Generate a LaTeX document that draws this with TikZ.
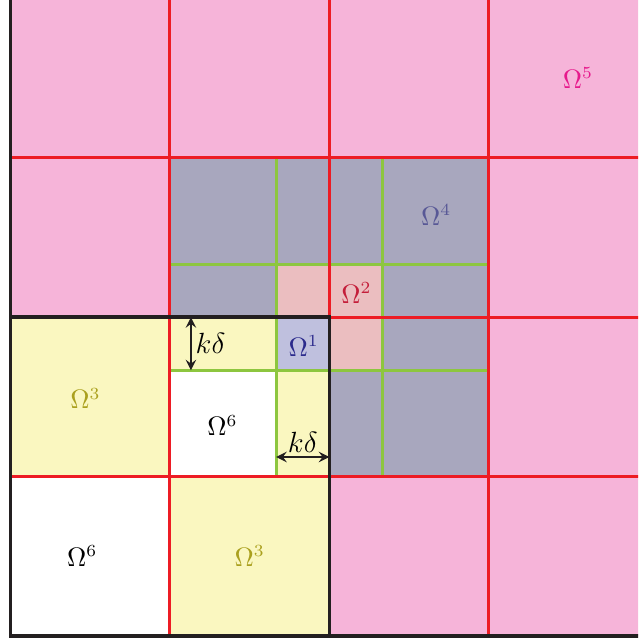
\documentclass[tikz,border=0pt]{standalone}
\usepackage{xcolor}
\definecolor{pinkbg}{RGB}{246,180,217}
\definecolor{grayreg}{RGB}{168,167,190}
\definecolor{pinkreg}{RGB}{235,190,192}
\definecolor{yellowreg}{RGB}{250,247,192}
\definecolor{lavreg}{RGB}{191,192,222}
\definecolor{linered}{RGB}{237,28,36}
\definecolor{linegreen}{RGB}{141,198,63}
\definecolor{lineblack}{RGB}{35,31,32}
\definecolor{txtfive}{RGB}{230,25,140}
\definecolor{txtfour}{RGB}{88,88,150}
\definecolor{txttwo}{RGB}{196,30,58}
\definecolor{txtone}{RGB}{43,42,140}
\definecolor{txtthree}{RGB}{170,160,30}
\begin{document}
\begin{tikzpicture}[>=stealth,x=2.3cm,y=2.3cm,
  redline/.style={line width=1.3pt,draw=linered},
  greenline/.style={line width=1.2pt,draw=linegreen},
  blackline/.style={line width=1.4pt,draw=lineblack},
  dimarrow/.style={<->,line width=0.9pt,draw=lineblack},
  dimlabel/.style={font=\fontsize{13}{15}\selectfont,inner sep=1.5pt},
  omlabel/.style={font=\fontsize{10.5}{12}\selectfont}]
  \useasboundingbox (-0.066,-0.019) rectangle (3.937,3.990);
  \clip (-0.066,-0.019) rectangle (3.937,3.990);
  % subdomains
  \fill[pinkbg] (0,0) rectangle (4.5,4.5);
  \fill[grayreg] (1,1) rectangle (3,3);
  \fill[pinkreg] (5/3,5/3) rectangle (7/3,7/3);
  \fill[yellowreg] (0,0) rectangle (2,2);
  \fill[white] (0,0) rectangle (1,1);
  \fill[white] (1,1) rectangle (5/3,5/3);
  \fill[lavreg] (5/3,5/3) rectangle (2,2);
  % fine and coarse grid
  \foreach \t in {5/3,7/3} {
    \draw[greenline] (\t,1) -- (\t,3);
    \draw[greenline] (1,\t) -- (3,\t);
  }
  \foreach \t in {1,2,3} {
    \draw[redline] (\t,0) -- (\t,4.5);
    \draw[redline] (0,\t) -- (4.5,\t);
  }
  \draw[blackline] (4.5,0) -- (0,0) -- (0,4.5);
  \draw[blackline] (0,2) -- (2,2) -- (2,0);
  % overlap widths
  \coordinate (vtop) at (1.132,2);
  \coordinate (vbot) at (1.132,5/3);
  \draw[dimarrow] (vtop) -- (vbot) node[midway,right,dimlabel] (kdv) {$k\delta$};
  \coordinate (hleft) at (5/3,1.123);
  \coordinate (hright) at (2,1.123);
  \draw[dimarrow] (hleft) -- (hright) node[midway,above,dimlabel] (kdh) {$k\delta$};
  % labels
  \node[omlabel,txtfive] (om5) at (3.56,3.5) {$\Omega^5$};
  \node[omlabel,txtfour] (om4) at (2.67,2.64) {$\Omega^4$};
  \node[omlabel,txttwo] (om2) at (2.17,2.15) {$\Omega^2$};
  \node[omlabel,txtone] (om1) at (1.84,1.82) {$\Omega^1$};
  \node[omlabel,txtthree] (om3a) at (0.47,1.49) {$\Omega^3$};
  \node[omlabel] (om6a) at (1.33,1.32) {$\Omega^6$};
  \node[omlabel] (om6b) at (0.45,0.5) {$\Omega^6$};
  \node[omlabel,txtthree] (om3b) at (1.5,0.5) {$\Omega^3$};
\end{tikzpicture}
\end{document}
